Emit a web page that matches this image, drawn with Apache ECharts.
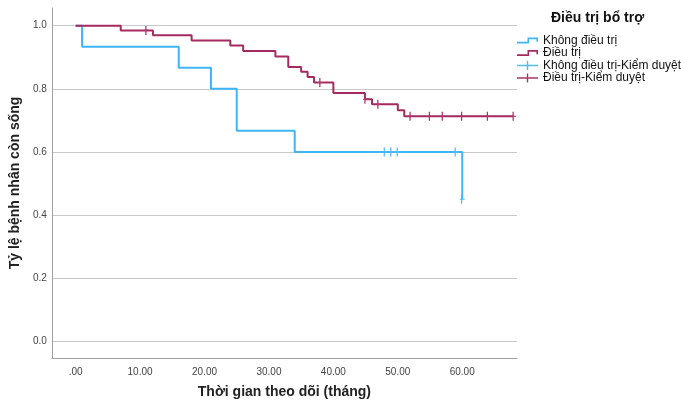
<!DOCTYPE html>
<html>
<head>
<meta charset="utf-8">
<script src="https://cdn.jsdelivr.net/npm/echarts@6/dist/echarts.min.js"></script>
<style>
html,body{margin:0;padding:0;background:#fff;}
#chart{width:681px;height:404px;}
</style>
</head>
<body>
<div id="chart"></div>
<script>
// ---- data ----
var groupNames = ['Không điều trị', 'Điều trị'];
var censorNames = ['Không điều trị-Kiểm duyệt', 'Điều trị-Kiểm duyệt'];

// Kaplan-Meier step points (time in months, survival proportion)
var blueTimes = [0, 1, 16, 21, 25, 34, 60];
var blueSurv  = [1, 0.933, 0.867, 0.8, 0.667, 0.6, 0.45];
var blueCensorTimes = [48, 49, 50, 59, 60];
var blueCensorSurv  = [0.6, 0.6, 0.6, 0.6, 0.45];

var redTimes = [0, 7, 12, 18, 24, 26, 31, 33, 35, 36, 37, 40, 44.9, 46, 50, 51, 68];
var redSurv  = [1, 0.985, 0.97, 0.953, 0.937, 0.92, 0.902, 0.869, 0.854, 0.837, 0.82, 0.787, 0.767, 0.751, 0.732, 0.713, 0.713];
var redCensorTimes = [11, 38, 45, 47, 52, 55, 57, 60, 64, 68];
var redCensorSurv  = [0.985, 0.82, 0.767, 0.751, 0.713, 0.713, 0.713, 0.713, 0.713, 0.713];

var xTicks = [0, 10, 20, 30, 40, 50, 60];
var yTicks = [0, 0.2, 0.4, 0.6, 0.8, 1.0];

var legendTitle = 'Điều trị bổ trợ';
var xName = 'Thời gian theo dõi (tháng)';
var yName = 'Tỷ lệ bệnh nhân còn sống';

// ---- build ----
function zip(a, b) { return a.map(function (v, i) { return [v, b[i]]; }); }

var FONT = 'Liberation Sans';
var BLUE = '#3db5f7';
var RED = '#a52a5f';
var BLUE_C = '#4fbcf8';
var RED_C = '#ab356a';

var plusPath = 'path://M0,3.8 H9.8 V0 H11.2 V3.8 H21 V5.2 H11.2 V9 H9.8 V5.2 H0 Z';
var markPath = 'path://M0,3.5 H1 V0 H2 V3.5 H4 V4.5 H2 V8 H1 V4.5 H0 Z';
var stepPath = 'path://M0,4 H10 V0 H20 V4 H18.5 V1.5 H11.5 V5.5 H0 Z';

var chart = echarts.init(document.getElementById('chart'), null, {renderer: 'canvas'});
chart.setOption({
  backgroundColor: '#fff',
  animation: false,
  textStyle: {fontFamily: FONT},
  grid: {left: 49, right: 164, top: 8, bottom: 41, containLabel: false},
  xAxis: {
    type: 'value', min: -3.7, max: 68.5,
    name: xName, nameLocation: 'middle', nameGap: 27,
    nameTextStyle: {fontFamily: FONT, fontSize: 14, fontWeight: 'bold', color: '#222'},
    axisLine: {show: true, onZero: false, lineStyle: {color: '#a0a0a0', width: 1}},
    axisTick: {show: false, customValues: xTicks},
    splitLine: {show: false},
    axisLabel: {
      customValues: xTicks, margin: 9, fontSize: 10, color: '#444', fontFamily: FONT,
      formatter: function (v) { return v === 0 ? '.00' : v.toFixed(2); }
    }
  },
  yAxis: {
    type: 'value', min: -0.053, max: 1.056,
    name: yName, nameLocation: 'middle', nameGap: 29,
    nameTextStyle: {fontFamily: FONT, fontSize: 14, fontWeight: 'bold', color: '#222'},
    axisLine: {show: true, onZero: false, lineStyle: {color: '#a0a0a0', width: 1}},
    axisTick: {show: false, customValues: yTicks},
    splitLine: {show: true, lineStyle: {color: '#c8c8c8', width: 1}},
    axisLabel: {
      customValues: yTicks, margin: 5, fontSize: 10, color: '#444', fontFamily: FONT,
      formatter: function (v) { return v.toFixed(1); }
    }
  },
  legend: {
    orient: 'vertical', left: 517, top: 34.5, padding: 0,
    itemWidth: 21, itemHeight: 9, itemGap: 0.5,
    textStyle: {fontFamily: FONT, fontSize: 12, color: '#111'},
    data: [
      {name: groupNames[0], icon: stepPath},
      {name: groupNames[1], icon: stepPath},
      {name: censorNames[0], icon: plusPath},
      {name: censorNames[1], icon: plusPath}
    ]
  },
  graphic: [{
    type: 'text', left: 551, top: 11,
    style: {text: legendTitle, font: 'bold 14px "Liberation Sans"', fill: '#111'}
  }],
  series: [
    {
      name: groupNames[0], type: 'line', step: 'end', data: zip(blueTimes, blueSurv),
      showSymbol: false, symbol: 'none', color: BLUE, lineStyle: {color: BLUE, width: 2}, itemStyle: {color: BLUE}, z: 2
    },
    {
      name: groupNames[1], type: 'line', step: 'end', data: zip(redTimes, redSurv),
      showSymbol: false, symbol: 'none', color: RED, lineStyle: {color: RED, width: 2}, itemStyle: {color: RED}, z: 3
    },
    {
      name: censorNames[0], type: 'scatter', data: zip(blueCensorTimes, blueCensorSurv),
      symbol: markPath, symbolSize: [5, 9], color: BLUE_C, itemStyle: {color: BLUE_C, opacity: 1}, z: 4
    },
    {
      name: censorNames[1], type: 'scatter', data: zip(redCensorTimes, redCensorSurv),
      symbol: markPath, symbolSize: [5, 9], color: RED_C, itemStyle: {color: RED_C, opacity: 1}, z: 5
    }
  ]
});
</script>
</body>
</html>
